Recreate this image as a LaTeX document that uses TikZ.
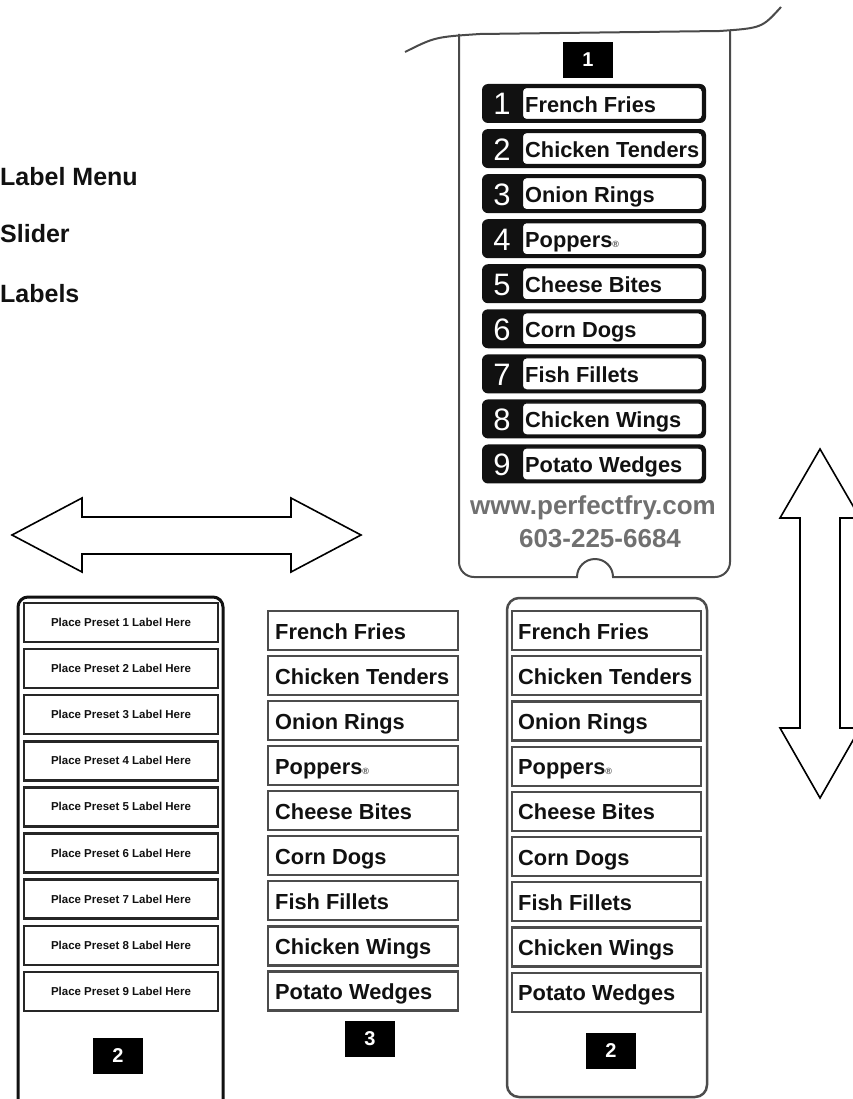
\documentclass[tikz,border=0pt]{standalone}
\usepackage{fontspec}
\setmainfont{Liberation Sans}
\usetikzlibrary{positioning}
\definecolor{ink}{HTML}{111111}
\definecolor{rimgray}{HTML}{4A4A4A}
\definecolor{webgray}{HTML}{707070}
\newcommand{\popname}{Poppers{\fontsize{9}{9}\selectfont\color{black!70}®}}
\tikzset{
  heading/.style={anchor=base west,inner sep=0pt,text=ink,
                  font=\fontsize{25}{25}\selectfont\bfseries},
  tagbox/.style={fill=black,text=white,minimum width=50pt,minimum height=36pt,
                 inner sep=0pt,font=\fontsize{20}{20}\selectfont\bfseries},
  menurow/.style={fill=ink,rounded corners=6pt,inner sep=0pt,
                  minimum width=224pt,minimum height=39pt},
  menuslot/.style={draw=ink,fill=white,line width=1.2pt,rounded corners=4pt,
                   inner sep=0pt,minimum width=180pt,minimum height=32pt},
  menunum/.style={anchor=base,inner sep=0pt,text=white,
                  font=\fontsize{31}{31}\selectfont},
  itemtext/.style={anchor=base west,inner sep=0pt,text=ink,
                   font=\fontsize{21.8}{22}\selectfont\bfseries},
  slotbox/.style={draw=black!85,fill=white,line width=2.4pt,inner sep=0pt,
                  minimum width=194pt,minimum height=39pt},
  slottext/.style={anchor=base,inner sep=0pt,text=ink,
                   font=\fontsize{11.5}{12}\selectfont\bfseries},
  labelbox/.style={draw=black!70,fill=white,line width=2.2pt,inner sep=0pt,
                   minimum width=190pt,minimum height=39pt},
  webtext/.style={anchor=base,inner sep=0pt,text=webgray,
                  font=\fontsize{26}{26}\selectfont\bfseries},
  cardline/.style={draw=rimgray,line width=2pt},
  bigarrow/.style={draw=black,fill=white,line width=1.6pt,line join=miter}
}
\begin{document}
\begin{tikzpicture}[x=1pt,y=-1pt]
  \path[use as bounding box] (0,0) rectangle (852,1099);
  \node[heading] (menuhead) at (0,186) {Label Menu};
  \node[heading] (sliderhead) at (0,243) {Slider};
  \node[heading] (labelshead) at (0,302) {Labels};

  \draw[cardline] (405,52) .. controls (435,37) .. (480,34) -- (720,31)
    .. controls (762,28) .. (781,7);
  \draw[cardline] (459,34) -- (459,562) arc[start angle=180,end angle=90,radius=15]
    -- (577,577) arc[start angle=180,end angle=360,radius=18]
    -- (715,577) arc[start angle=90,end angle=0,radius=15] -- (730,31);
  \node[tagbox] (menutag) at (588,60) {1};
  \foreach \i/\dish in {1/French Fries, 2/Chicken Tenders, 3/Onion Rings,
                        4/\popname, 5/Cheese Bites, 6/Corn Dogs,
                        7/Fish Fillets, 8/Chicken Wings, 9/Potato Wedges}{
    \pgfmathsetmacro{\rowy}{103.5+(\i-1)*45.06}
    \node[menurow] (menurow\i) at (594,\rowy) {};
    \node[menuslot,anchor=east] (menuslot\i) at (703,\rowy) {};
    \node[menunum] (menunum\i) at (502,\rowy+11.5) {\i};
    \node[itemtext] (menuitem\i) at (525,\rowy+9) {\dish};
  }
  \node[webtext] (website) at (593,514) {www.perfectfry.com};
  \node[webtext] (phone) at (600,547) {603-225-6684};

  \draw[bigarrow] (12,535) -- (82,498) -- (82,517) -- (291,517) -- (291,498)
    -- (361,535) -- (291,572) -- (291,554) -- (82,554) -- (82,572) -- cycle;
  \draw[bigarrow] (820,449) -- (860,518) -- (840,518) -- (840,728) -- (860,728)
    -- (820,798) -- (780,728) -- (800,728) -- (800,518) -- (780,518) -- cycle;

  \draw[draw=ink,line width=3pt] (18,1110) -- (18,607)
    arc[start angle=180,end angle=270,radius=10] -- (213,597)
    arc[start angle=270,end angle=360,radius=10] -- (223,1110);
  \foreach \i in {1,...,9}{
    \pgfmathsetmacro{\rowy}{622.5+(\i-1)*46.1}
    \node[slotbox] (slot\i) at (121,\rowy) {};
    \node[slottext] (slottext\i) at (121,\rowy+4) {Place Preset \i\ Label Here};
  }
  \node[tagbox] (slidertag) at (118,1056) {2};

  \foreach \i/\dish in {1/French Fries, 2/Chicken Tenders, 3/Onion Rings,
                        4/\popname, 5/Cheese Bites, 6/Corn Dogs,
                        7/Fish Fillets, 8/Chicken Wings, 9/Potato Wedges}{
    \pgfmathsetmacro{\rowy}{630.5+(\i-1)*45.06}
    \node[labelbox] (label\i) at (363,\rowy) {};
    \node[itemtext] (labeltext\i) at (275,\rowy+8.5) {\dish};
  }
  \node[tagbox] (labeltag) at (370,1039) {3};

  \draw[draw=black!70,line width=2.5pt,rounded corners=12pt]
    (507,598) rectangle (707,1097);
  \foreach \i/\dish in {1/French Fries, 2/Chicken Tenders, 3/Onion Rings,
                        4/\popname, 5/Cheese Bites, 6/Corn Dogs,
                        7/Fish Fillets, 8/Chicken Wings, 9/Potato Wedges}{
    \pgfmathsetmacro{\rowy}{630.5+(\i-1)*45.2}
    \node[labelbox,minimum width=189pt] (filled\i) at (606.5,\rowy) {};
    \node[itemtext] (filledtext\i) at (518,\rowy+8.5) {\dish};
  }
  \node[tagbox] (filledtag) at (611,1051) {2};
\end{tikzpicture}
\end{document}
